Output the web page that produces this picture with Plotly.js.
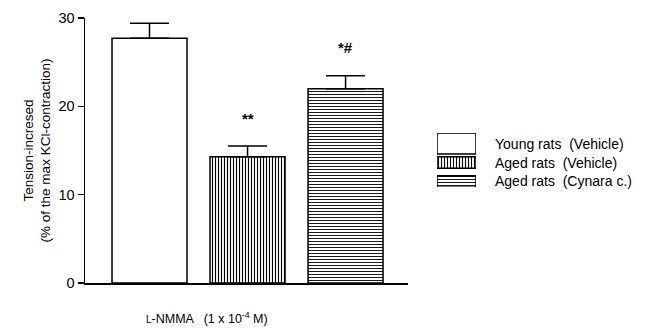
<!DOCTYPE html>
<html>
<head>
<meta charset="utf-8">
<script src="https://cdn.plot.ly/plotly-3.0.1.min.js"></script>
<style>html,body{margin:0;padding:0;background:#fff;}</style>
</head>
<body>
<div id="chart" style="width:652px;height:329px;"></div>
<script>
const groups = ['Young rats  (Vehicle)', 'Aged rats  (Vehicle)', 'Aged rats  (Cynara c.)'];
const values = [27.7, 14.3, 22.0];
const sem = [1.7, 1.2, 1.45];
const signif = ['', '**', '*#'];
const patterns = ['', '|', '-'];
const yTicks = [0, 10, 20, 30];
const yTitle = 'Tension-incresed<br>(% of the max KCl-contraction)';
const xLabel = '<span style="font-size:10px">L</span>-NMMA   (1 x 10<sup>-4</sup> M)';

const FONT = 'Arial, "Liberation Sans", sans-serif';
const swatchWidths = [1.1, 0.6, 0.6];
const traces = [];
groups.forEach((g, i) => {
  const marker = {
    color: '#fff',
    line: {color: '#000', width: 1.5},
    pattern: {shape: patterns[i], fgcolor: '#000', bgcolor: '#fff', size: 3, solidity: patterns[i] === '-' ? 0.3 : 0.38}
  };
  traces.push({
    type: 'bar', x: [g], y: [values[i]], width: [0.765],
    marker: marker,
    error_y: {type: 'data', array: [sem[i]], arrayminus: [0], symmetric: false, color: '#000', thickness: 1.5, width: 19.5},
    showlegend: false, hoverinfo: 'skip', xaxis: 'x', yaxis: 'y'
  });
  traces.push({
    type: 'bar', orientation: 'h', y: [g], x: [1], width: [swatchWidths[i]],
    marker: marker, showlegend: false, hoverinfo: 'skip', xaxis: 'x2', yaxis: 'y2'
  });
});

const annotations = [];
groups.forEach((g, i) => {
  if (signif[i]) {
    annotations.push({xref: 'x', yref: 'y', x: g, y: values[i] + sem[i], text: '<b>' + signif[i] + '</b>',
      showarrow: false, yanchor: 'middle', yshift: 28, font: {family: FONT, size: 15, color: '#000'}});
  }
  annotations.push({xref: 'x2', yref: 'y2', x: 1, y: g, text: groups[i], showarrow: false,
    xanchor: 'left', xshift: 17, font: {family: FONT, size: 14, color: '#000'}});
});
annotations.push({xref: 'paper', yref: 'paper', x: (207 - 85) / 567, y: (283 - 318) / 265, text: xLabel,
  showarrow: false, xanchor: 'center', yanchor: 'middle', font: {family: FONT, size: 12.5, color: '#000'}});

const layout = {
  width: 652, height: 329,
  margin: {l: 85, r: 0, t: 18, b: 46},
  paper_bgcolor: '#fff', plot_bgcolor: 'rgba(0,0,0,0)',
  barmode: 'overlay',
  font: {family: FONT, color: '#000'},
  xaxis: {domain: [0, 323 / 567], type: 'category', categoryorder: 'array', categoryarray: groups,
    range: [-0.658, 2.637], showticklabels: false, ticks: '', showline: true, linecolor: '#000', linewidth: 2,
    showgrid: false, zeroline: false, fixedrange: true},
  yaxis: {range: [0, 30], tickvals: yTicks, ticks: 'outside', ticklen: 6, tickwidth: 1.5, tickcolor: '#000',
    showline: true, linecolor: '#000', linewidth: 1.5, showgrid: false, zeroline: false,
    tickfont: {family: FONT, size: 14.5, color: '#000'},
    title: {text: yTitle, font: {family: FONT, size: 13.5, color: '#000'}, standoff: 4}},
  xaxis2: {domain: [(437 - 85) / 567, (476 - 85) / 567], anchor: 'y2', range: [0, 1], visible: false, fixedrange: true},
  yaxis2: {domain: [(283 - 187) / 265, (283 - 133) / 265], anchor: 'x2', type: 'category',
    categoryorder: 'array', categoryarray: groups, range: [2.29, -0.553], visible: false, fixedrange: true},
  annotations: annotations,
  showlegend: false
};

Plotly.newPlot('chart', traces, layout, {displayModeBar: false, staticPlot: true});
</script>
</body>
</html>
